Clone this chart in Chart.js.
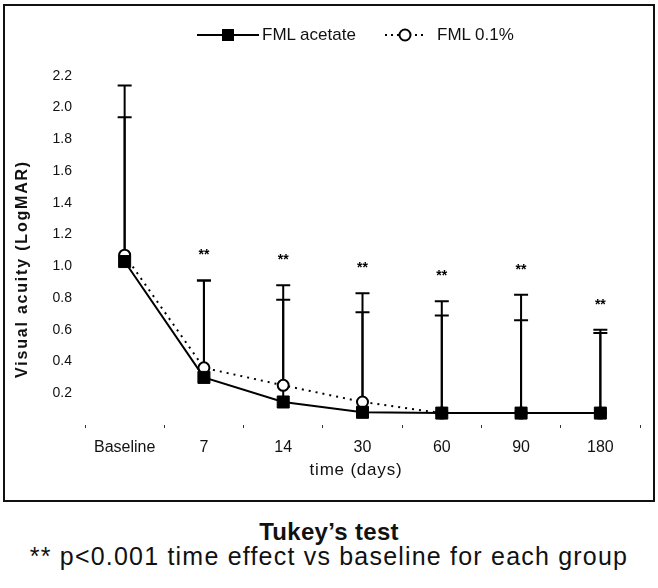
<!DOCTYPE html>
<html>
<head>
<meta charset="utf-8">
<script src="https://cdn.jsdelivr.net/npm/chart.js@4.4.1/dist/chart.umd.min.js"></script>
<style>
  html, body { margin: 0; padding: 0; background: #fff; }
  body { width: 658px; height: 588px; position: relative; overflow: hidden; font-family: "Liberation Sans", Arial, sans-serif; }
  #frame { position: absolute; left: 3px; top: 4px; width: 648px; height: 494px; border: 2px solid #111; pointer-events: none; }
  #chart { position: absolute; left: 0; top: 0; }
  .leg { position: absolute; top: 26px; font-size: 17px; color: #111; line-height: 18px; }
  #ytitle { position: absolute; left: 22px; top: 269px; transform: translate(-50%, -50%) rotate(-90deg); white-space: nowrap; font-weight: bold; font-size: 16px; letter-spacing: 1.8px; color: #111; }
  #xtitle { position: absolute; left: 356px; top: 470px; transform: translate(-50%, -50%); white-space: nowrap; font-size: 17px; letter-spacing: 0.8px; color: #111; }
  .note { position: absolute; left: 0; width: 658px; text-align: center; color: #111; white-space: nowrap; }
  #tukey { top: 518px; font-weight: bold; font-size: 24px; letter-spacing: 0.3px; }
  #pnote { top: 542px; font-size: 25px; letter-spacing: 1.2px; }
</style>
</head>
<body>
<canvas id="chart" width="658" height="500"></canvas>
<div id="frame"></div>

<svg class="leg" style="left:197px; top:28px;" width="62" height="14">
  <line x1="0" y1="7" x2="62" y2="7" stroke="#000" stroke-width="2"/>
  <rect x="25" y="1" width="12" height="12" fill="#000"/>
</svg>
<div class="leg" style="left:262px;">FML acetate</div>
<svg class="leg" style="left:385px; top:28px;" width="40" height="14">
  <line x1="0" y1="7" x2="40" y2="7" stroke="#000" stroke-width="2" stroke-dasharray="2,4"/>
  <circle cx="20" cy="7" r="5.5" fill="#fff" stroke="#000" stroke-width="2"/>
</svg>
<div class="leg" style="left:437px;">FML 0.1%</div>

<div id="ytitle">Visual acuity (LogMAR)</div>
<div id="xtitle">time (days)</div>
<div class="note" id="tukey">Tukey’s test</div>
<div class="note" id="pnote">** p&lt;0.001 time effect vs baseline for each group</div>

<script>
'use strict';

// data
var categories = ['Baseline', '7', '14', '30', '60', '90', '180'];
var acetateMean = [1.03, 0.30, 0.145, 0.08, 0.075, 0.075, 0.075];
var acetateUpper = [2.14, 0.91, 0.88, 0.83, 0.78, 0.82, 0.60];
var fml01Mean = [1.07, 0.36, 0.25, 0.145, 0.075, 0.075, 0.075];
var fml01Upper = [1.94, 0.91, 0.79, 0.71, 0.69, 0.66, 0.58];
var significance = ['', '**', '**', '**', '**', '**', '**'];
var yTicks = [0.2, 0.4, 0.6, 0.8, 1.0, 1.2, 1.4, 1.6, 1.8, 2.0, 2.2];

var upperBars = [acetateUpper, fml01Upper];

// vertical error bars (upper half only) + "**" marks
var errorBars = {
  id: 'errorBars',
  beforeDatasetsDraw: function(chart) {
    var ctx = chart.ctx;
    var x = chart.scales.x;
    var y = chart.scales.y;
    ctx.save();
    ctx.strokeStyle = '#000';
    ctx.lineWidth = 2;
    chart.data.datasets.forEach(function(ds, d) {
      var up = upperBars[d];
      for (var i = 0; i < ds.data.length; i++) {
        var px = x.getPixelForValue(i);
        var y0 = y.getPixelForValue(ds.data[i]);
        var y1 = y.getPixelForValue(up[i]);
        ctx.beginPath();
        ctx.moveTo(px, y0);
        ctx.lineTo(px, y1);
        ctx.moveTo(px - 7, y1);
        ctx.lineTo(px + 7, y1);
        ctx.stroke();
      }
    });
    ctx.restore();
  },
  afterDatasetsDraw: function(chart) {
    var ctx = chart.ctx;
    var x = chart.scales.x;
    var y = chart.scales.y;
    ctx.save();
    ctx.fillStyle = '#000';
    ctx.font = 'bold 14px "Liberation Sans", Arial, sans-serif';
    ctx.textAlign = 'center';
    ctx.textBaseline = 'middle';
    for (var i = 0; i < significance.length; i++) {
      if (!significance[i]) { continue; }
      var top = Math.max(acetateUpper[i], fml01Upper[i]);
      ctx.fillText(significance[i], x.getPixelForValue(i), y.getPixelForValue(top) - 25);
    }
    ctx.restore();
  }
};

var ctx = document.getElementById('chart').getContext('2d');
new Chart(ctx, {
  type: 'line',
  data: {
    labels: categories,
    datasets: [{
      label: 'FML acetate',
      data: acetateMean,
      borderColor: '#000',
      borderWidth: 2,
      pointStyle: 'rect',
      pointRadius: 8.5,
      pointBackgroundColor: '#000',
      pointBorderColor: '#000',
      pointBorderWidth: 1,
      tension: 0
    }, {
      label: 'FML 0.1%',
      data: fml01Mean,
      borderColor: '#000',
      borderWidth: 2,
      borderDash: [2, 5],
      pointStyle: 'circle',
      pointRadius: 5.5,
      pointBackgroundColor: '#fff',
      pointBorderColor: '#000',
      pointBorderWidth: 2,
      tension: 0
    }]
  },
  options: {
    responsive: false,
    animation: false,
    devicePixelRatio: 1,
    layout: { padding: { top: 60, right: 18, bottom: 0, left: 0 } },
    plugins: {
      legend: { display: false },
      tooltip: { enabled: false }
    },
    scales: {
      x: {
        offset: true,
        afterFit: function(scale) { scale.height = 75; },
        border: { display: false },
        grid: { display: true, drawOnChartArea: false, drawTicks: true, tickLength: 3, color: '#333', offset: true },
        ticks: { color: '#111', padding: 10, font: { family: '"Liberation Sans", Arial, sans-serif', size: 16 } }
      },
      y: {
        min: 0,
        max: 2.3,
        afterFit: function(scale) { scale.width = 85; },
        afterBuildTicks: function(scale) {
          scale.ticks = yTicks.map(function(v) { return { value: v }; });
        },
        border: { display: false },
        grid: { display: false, drawTicks: false },
        ticks: {
          color: '#111',
          padding: 13,
          font: { family: '"Liberation Sans", Arial, sans-serif', size: 14 },
          callback: function(v) { return Number(v).toFixed(1); }
        }
      }
    }
  },
  plugins: [errorBars]
});
</script>
</body>
</html>
